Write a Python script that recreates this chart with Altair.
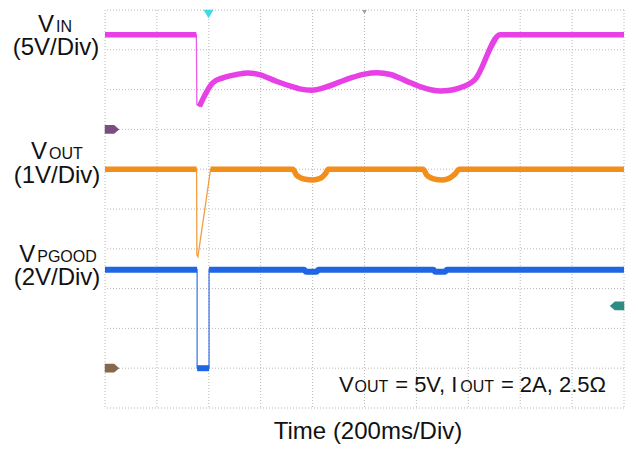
import altair as alt
import pandas as pd

# ---------------- data (time in ms, 200 ms/div; voltages in V) ----------------
vin_t = [0, 352, 354, 364, 415, 454, 506, 550, 595, 660, 724, 750, 797, 850, 900,
         950, 1000, 1047, 1100, 1160, 1220, 1260, 1292, 1330, 1364, 1400, 1424, 1523, 2000]
vin_v = [11.9, 11.9, 3.1, 2.9, 5.84, 6.47, 6.89, 7.10, 6.89, 6.05, 5.34, 5.09, 4.92, 5.3, 5.9,
         6.5, 6.95, 7.12, 6.9, 6.1, 5.3, 4.95, 4.82, 4.92, 5.2, 5.65, 6.2, 11.9, 11.9]

vout_t = [0, 353, 354, 358, 407, 724, 737, 755, 778, 800, 820, 838, 851, 860,
          1226, 1239, 1257, 1278, 1298, 1318, 1336, 1352, 1364, 2000]
vout_v = [5.0, 5.0, 2.85, 2.8, 5.0, 5.0, 4.86, 4.78, 4.74, 4.73, 4.75, 4.81, 4.9, 5.0,
          5.0, 4.86, 4.78, 4.74, 4.73, 4.75, 4.81, 4.9, 5.0, 5.0]

vpg_t = [0, 355, 355, 401, 401, 767, 775, 815, 823, 1265, 1273, 1310, 1318, 2000]
vpg_v = [4.95, 4.95, 0.0, 0.0, 4.95, 4.95, 4.85, 4.85, 4.95, 4.95, 4.85, 4.85, 4.95, 4.95]

# channel settings: volts per division, ground level (divisions from bottom)
vin_scale, vin_gnd = 5.0, 7.0
vout_scale, vout_gnd = 1.0, 1.0
vpg_scale, vpg_gnd = 2.0, 1.0

grid_t = [0, 200, 400, 600, 800, 1000, 1200, 1400, 1600, 1800, 2000]
grid_div = [0, 1, 2, 3, 4, 5, 6, 7, 8, 9, 10]

trigger_t = 399
center_t = 1000
trigger_level_v = 3.13  # on the PGOOD channel scale

# ---------------- helpers ----------------
XS = alt.Scale(domain=[0, 2000], nice=False, zero=False)
YS = alt.Scale(domain=[0, 10], nice=False, zero=False)
PX0, PY0 = 105, 10  # absolute position of plot area origin


def trace_frames(t, v, scale, gnd, thick):
    df = pd.DataFrame({"t": t, "v": v})
    df["div"] = gnd + df["v"] / scale
    df["i"] = range(len(df))
    parts = []
    for k, (a, b) in enumerate(thick):
        p = df.iloc[a:b + 1].copy()
        p["seg"] = k
        parts.append(p)
    return df, pd.concat(parts)


def trace_layers(t, v, scale, gnd, thick, color, width):
    full, thick_df = trace_frames(t, v, scale, gnd, thick)
    thin = alt.Chart(full).mark_line(color=color, strokeWidth=1.3, opacity=0.85).encode(
        x=alt.X("t:Q", scale=XS, axis=None),
        y=alt.Y("div:Q", scale=YS, axis=None),
        order="i:Q",
    )
    thk = alt.Chart(thick_df).mark_line(color=color, strokeWidth=width, strokeJoin="round",
                                        interpolate="monotone").encode(
        x=alt.X("t:Q", scale=XS, axis=None),
        y=alt.Y("div:Q", scale=YS, axis=None),
        detail="seg:N",
        order="i:Q",
    )
    return [thin, thk]


W = {' ': 278, '(': 333, ')': 333, '/': 278, '=': 584, ',': 278, '.': 278, 'A': 667, 'D': 722,
     'G': 778, 'I': 278, 'N': 722, 'O': 778, 'P': 667, 'T': 611, 'U': 722, 'V': 667, 'i': 222,
     'm': 833, 's': 500, 'v': 500, 'e': 556, 'Ω': 768}


def tw(s, size):
    return sum(W.get(c, 556) for c in s) * size / 1000.0


FONT = "Liberation Sans"


def txt(s, x_abs, y_abs, size, align="left"):
    lead = len(s) - len(s.lstrip(" "))
    x = x_abs + tw(s[:lead], size) if align == "left" else x_abs
    return alt.Chart(pd.DataFrame({"s": [s.strip()]})).mark_text(
        font=FONT, fontSize=size, align=align, baseline="alphabetic", color="#111111"
    ).encode(x=alt.value(x - PX0), y=alt.value(y_abs - PY0), text="s:N")


def run(pieces, x_start, y_abs, gap=1.0):
    out = []
    x = x_start
    for s, size in pieces:
        out.append(txt(s, x, y_abs, size))
        x += tw(s, size) + gap
    return out


def centered_run(pieces, xc, y_abs, gap=1.0):
    total = sum(tw(s, z) for s, z in pieces) + gap * (len(pieces) - 1)
    return run(pieces, xc - total / 2, y_abs, gap)


# ---------------- layers ----------------
gdf_t = pd.DataFrame({"t": grid_t})
gdf_d = pd.DataFrame({"d": grid_div})
grid_v = alt.Chart(gdf_t).mark_rule(color="#b8b8b8", strokeWidth=1, strokeDash=[1, 2]).encode(
    x=alt.X("t:Q", scale=XS, axis=None))
grid_h = alt.Chart(gdf_d).mark_rule(color="#b8b8b8", strokeWidth=1, strokeDash=[1, 2]).encode(
    y=alt.Y("d:Q", scale=YS, axis=None))

layers = [grid_v, grid_h]
layers += trace_layers(vin_t, vin_v, vin_scale, vin_gnd, [(0, 1), (3, len(vin_t) - 1)], "#e640e6", 5.5)
layers += trace_layers(vout_t, vout_v, vout_scale, vout_gnd, [(0, 1), (4, len(vout_t) - 1)], "#f28e1c", 5.5)
layers += trace_layers(vpg_t, vpg_v, vpg_scale, vpg_gnd, [(0, 1), (2, 3), (4, len(vpg_t) - 1)], "#1f66e5", 6)

flag_right = "M-1,-0.6 L0.3,-0.6 L1,0 L0.3,0.6 L-1,0.6 Z"
flag_left = "M1,-0.6 L-0.3,-0.6 L-1,0 L-0.3,0.6 L1,0.6 Z"

mk_vin = alt.Chart(pd.DataFrame({"div": [vin_gnd]})).mark_point(
    shape=flag_right, filled=True, size=210, color="#7a4f80", opacity=1).encode(
    x=alt.value(7), y=alt.Y("div:Q", scale=YS, axis=None))
mk_out = alt.Chart(pd.DataFrame({"div": [vout_gnd]})).mark_point(
    shape=flag_right, filled=True, size=210, color="#86684c", opacity=1).encode(
    x=alt.value(7), y=alt.Y("div:Q", scale=YS, axis=None))
mk_trig_lvl = alt.Chart(pd.DataFrame({"div": [vpg_gnd + trigger_level_v / vpg_scale]})).mark_point(
    shape=flag_left, filled=True, size=210, color="#2f8c83", opacity=1).encode(
    x=alt.value(512), y=alt.Y("div:Q", scale=YS, axis=None))
mk_trig = alt.Chart(pd.DataFrame({"t": [trigger_t]})).mark_point(
    shape="triangle-down", filled=True, size=100, color="#3fd8e4", opacity=1).encode(
    x=alt.X("t:Q", scale=XS, axis=None), y=alt.value(4))
mk_center = alt.Chart(pd.DataFrame({"t": [center_t]})).mark_point(
    shape="triangle-down", filled=True, size=22, color="#a0a0a0", opacity=1).encode(
    x=alt.X("t:Q", scale=XS, axis=None), y=alt.value(2))
layers += [mk_vin, mk_out, mk_trig_lvl, mk_trig, mk_center]

# ---------------- text ----------------
BIG, SUB = 24, 16
layers += centered_run([("V", BIG), ("IN", SUB)], 55, 32, 2.0)
layers.append(txt("(5V/Div)", 56, 55, BIG, "center"))
layers += centered_run([("V", BIG), ("OUT", SUB)], 57, 159, 2.0)
layers.append(txt("(1V/Div)", 57, 183, BIG, "center"))
layers += centered_run([("V", BIG), ("PGOOD", SUB)], 58, 262, 2.0)
layers.append(txt("(2V/Div)", 57, 285, BIG, "center"))

A, AS = 22, 16
layers += run([("V", A), ("OUT", AS), (" = 5V, I", A), ("OUT", AS), (" = 2A, 2.5Ω", A)], 339, 392, 0.8)
layers.append(txt("Time  (200ms/Div)", 368, 439, 24, "center"))

chart = alt.layer(*layers).properties(
    width=519, height=398,
    padding={"left": 97, "top": 2, "right": 6, "bottom": 39},
    autosize=alt.AutoSizeParams(type="none"),
    background="white",
).configure_view(stroke=None)

chart.save("out.html", embed_options={"renderer": "svg", "actions": False})
